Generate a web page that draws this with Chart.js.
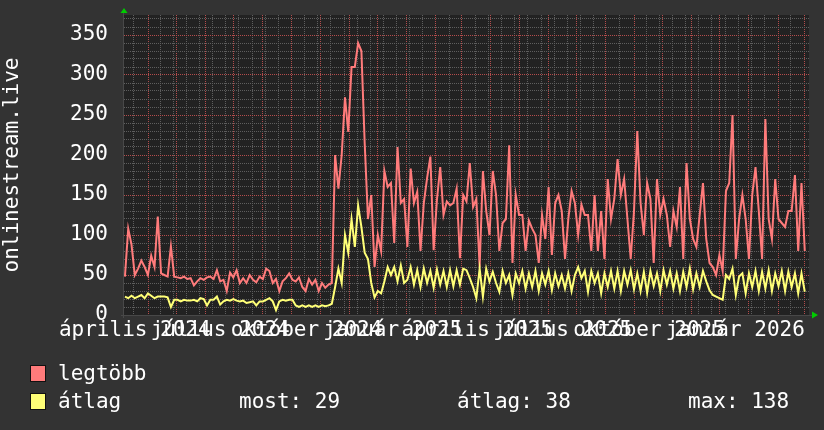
<!DOCTYPE html>
<html lang="hu">
<head>
<meta charset="utf-8">
<title>onlinestream.live</title>
<script src="https://cdn.jsdelivr.net/npm/chart.js@4.4.1/dist/chart.umd.min.js"></script>
<style>
  html, body { margin: 0; padding: 0; background: #333333; }
  #doboz { position: relative; width: 824px; height: 430px; overflow: hidden;
           font-family: 'DejaVu Sans Mono', monospace; font-size: 21px; color: #ffffff; }
  #grafikon { position: absolute; left: 0; top: 0; }
  .negyzet { position: absolute; left: 30px; width: 16px; height: 17px;
             box-sizing: border-box; border: 1px solid #111; }
  .szoveg { position: absolute; line-height: 21px; white-space: pre; }
</style>
</head>
<body>
<div id="doboz">
  <canvas id="grafikon" width="824" height="430"></canvas>
  <div class="negyzet" style="top:365px;background:#ff7b7b"></div>
  <div class="szoveg" style="left:58px;top:363px">legtöbb</div>
  <div class="negyzet" style="top:393px;background:#ffff77"></div>
  <div class="szoveg" style="left:58px;top:391px">átlag</div>
  <div class="szoveg" style="left:239px;top:391px">most: 29</div>
  <div class="szoveg" style="left:457px;top:391px">átlag: 38</div>
  <div class="szoveg" style="left:688px;top:391px">max: 138</div>
</div>
<script>
// adatok - egy minta 3,5 naponként, az első 1. napon (2024. márc. 6. = 0. nap)
const MINTA_LEPES = 3.5;
const MINTA_ELSO = 1;

const legtobb = [
  48,108,88,50,58,68,60,50,74,60,
  123,52,50,48,86,48,47,46,48,45,
  46,37,42,46,44,47,48,45,56,42,
  44,30,53,47,56,40,46,40,50,44,
  41,48,45,58,55,40,45,30,42,46,
  52,44,42,47,35,30,45,38,44,30,
  40,34,38,40,200,158,200,272,229,310,
  310,340,330,215,120,150,60,100,80,180,
  160,165,90,210,140,145,85,183,140,154,
  80,140,171,198,81,144,185,125,142,137,
  140,158,71,150,142,190,135,145,60,180,
  130,100,180,150,80,115,120,212,65,150,
  125,125,80,118,108,100,65,125,95,160,
  75,140,150,130,70,120,155,140,100,138,
  125,125,80,150,80,130,70,170,120,145,
  195,150,170,120,70,130,230,140,100,165,
  145,65,170,125,145,125,85,130,110,160,
  70,190,120,95,85,125,165,95,65,60,
  50,75,55,155,165,250,70,120,150,120,
  70,150,185,130,70,245,120,95,170,120,
  115,110,130,130,175,80,165,80
];

const atlag = [
  23,21,24,21,23,25,21,27,24,21,
  23,23,23,22,10,19,19,17,19,18,
  18,19,17,21,20,12,19,19,23,13,
  17,19,18,20,18,17,18,15,16,17,
  12,17,17,19,21,17,6,17,19,18,
  19,19,12,10,12,10,12,10,12,10,
  12,11,12,14,35,58,40,100,78,120,
  85,137,110,78,70,40,22,30,27,42,
  60,50,60,42,62,40,44,60,38,56,
  35,58,40,55,34,57,38,55,35,56,
  36,56,38,58,56,46,35,21,58,23,
  58,42,54,40,29,55,40,50,25,52,
  40,55,33,52,35,55,30,52,38,55,
  31,52,36,50,33,52,30,50,60,46,
  55,29,55,40,52,27,52,35,55,33,
  55,30,55,38,56,32,52,30,54,28,
  55,36,52,30,56,38,55,33,52,30,
  54,35,58,32,52,35,55,42,31,25,
  23,21,19,50,45,58,25,48,52,27,
  52,35,55,30,54,33,56,30,52,36,
  55,30,54,35,52,27,52,29
];

// időtengely (napokban)
const NAPOK = 730;
const honapKezdetek = [26,56,87,117,148,179,209,240,270,301,332,360,391,421,452,482,513,544,574,605,635,666,697,725];
const feliratNapok = [11.5,102.5,194.5,286.5,376.5,467.5,559.5,651.5];
const feliratok = ['április 2024','július 2024','október 2024','január 2025','április 2025','július 2025','október 2025','január 2026'];
const KETHET_ELSO = 10.5;

const Y_MAX = 375;
const Y_LEPES = 10;
const Y_FO = 50;

const PIROS = '#ff7b7b';
const SARGA = '#ffff77';
const RACS_SZURKE = '#5e5e5e';
const RACS_PIROS = '#b44c4c';
const betu = { family: 'DejaVu Sans Mono', size: 21 };

function pontok(sor) {
  return sor.map((v, i) => ({ x: MINTA_ELSO + i * MINTA_LEPES, y: v }));
}

// x rácsvonalak + feliratok egy listában
const xRacs = [];
for (let n = KETHET_ELSO; n <= NAPOK; n += 14) {
  if (honapKezdetek.some(h => Math.abs(h - n) < 2.5)) continue;
  xRacs.push({ nap: n, tipus: 'kicsi', felirat: '' });
}
honapKezdetek.forEach(h => xRacs.push({ nap: h, tipus: 'nagy', felirat: '' }));
feliratNapok.forEach((n, i) => xRacs.push({ nap: n, tipus: 'felirat', felirat: feliratok[i] }));
xRacs.sort((a, b) => a.nap - b.nap);

const hatter = {
  id: 'hatter',
  beforeDraw(chart) {
    const c = chart.ctx, a = chart.chartArea;
    c.save();
    c.fillStyle = '#333333';
    c.fillRect(0, 0, chart.width, chart.height);
    c.fillStyle = '#222222';
    c.fillRect(a.left, a.top, a.right - a.left, a.bottom - a.top);
    c.restore();
  },
  afterDraw(chart) {
    const c = chart.ctx, a = chart.chartArea;
    c.save();
    c.strokeStyle = '#484848';
    c.lineWidth = 1;
    c.beginPath();
    c.moveTo(a.left - 0.5, a.top - 2);
    c.lineTo(a.left - 0.5, a.bottom + 3);
    c.moveTo(a.left - 3, a.bottom + 0.5);
    c.lineTo(a.right + 3, a.bottom + 0.5);
    c.stroke();
    // zöld nyilak
    c.fillStyle = '#00cc00';
    c.beginPath();
    c.moveTo(a.left, a.top - 7);
    c.lineTo(a.left - 3.5, a.top - 2);
    c.lineTo(a.left + 3.5, a.top - 2);
    c.closePath();
    c.fill();
    c.beginPath();
    c.moveTo(a.right + 9, a.bottom);
    c.lineTo(a.right + 3, a.bottom - 3.5);
    c.lineTo(a.right + 3, a.bottom + 3.5);
    c.closePath();
    c.fill();
    c.restore();
  }
};

new Chart(document.getElementById('grafikon'), {
  type: 'line',
  data: {
    datasets: [
      { label: 'átlag', data: pontok(atlag), borderColor: SARGA, borderWidth: 2,
        pointRadius: 0, tension: 0, fill: false },
      { label: 'legtöbb', data: pontok(legtobb), borderColor: PIROS, borderWidth: 2,
        pointRadius: 0, tension: 0, fill: false }
    ]
  },
  options: {
    responsive: false,
    animation: false,
    layout: { padding: { top: 15, right: 15, bottom: 85, left: 0 } },
    plugins: { legend: { display: false }, tooltip: { enabled: false } },
    scales: {
      x: {
        type: 'linear', min: 0, max: NAPOK,
        afterBuildTicks: s => { s.ticks = xRacs.map(t => ({ value: t.nap })); },
        afterFit: s => { s.height = 30; s.paddingLeft = 0; s.paddingRight = 0; },
        ticks: {
          autoSkip: false, maxRotation: 0, minRotation: 0, padding: 3,
          color: '#ffffff', font: betu,
          callback: (v, i) => (xRacs[i] ? xRacs[i].felirat : '')
        },
        grid: {
          drawTicks: false, lineWidth: 1,
          color: c => {
            const t = xRacs[c.index];
            if (!t || t.tipus === 'felirat') return 'rgba(0,0,0,0)';
            return t.tipus === 'nagy' ? RACS_PIROS : RACS_SZURKE;
          }
        },
        border: { display: false, dash: [1, 1] }
      },
      y: {
        type: 'linear', min: 0, max: Y_MAX,
        afterBuildTicks: s => {
          const t = [];
          for (let v = 0; v < Y_MAX; v += Y_LEPES) t.push({ value: v });
          s.ticks = t;
        },
        afterFit: s => { s.width = 124; s.paddingTop = 0; s.paddingBottom = 0; },
        ticks: {
          autoSkip: false, padding: 16, color: '#ffffff', font: betu,
          callback: v => (v % Y_FO === 0 ? String(v) : '')
        },
        grid: {
          drawTicks: false, lineWidth: 1,
          color: c => (c.tick && c.tick.value % Y_FO === 0 && c.tick.value !== 0 ? RACS_PIROS : RACS_SZURKE)
        },
        border: { display: false, dash: [1, 1] },
        title: { display: true, text: 'onlinestream.live', color: '#ffffff', font: betu,
                 padding: { top: 0, bottom: 0 } }
      }
    }
  },
  plugins: [hatter]
});
</script>
</body>
</html>
